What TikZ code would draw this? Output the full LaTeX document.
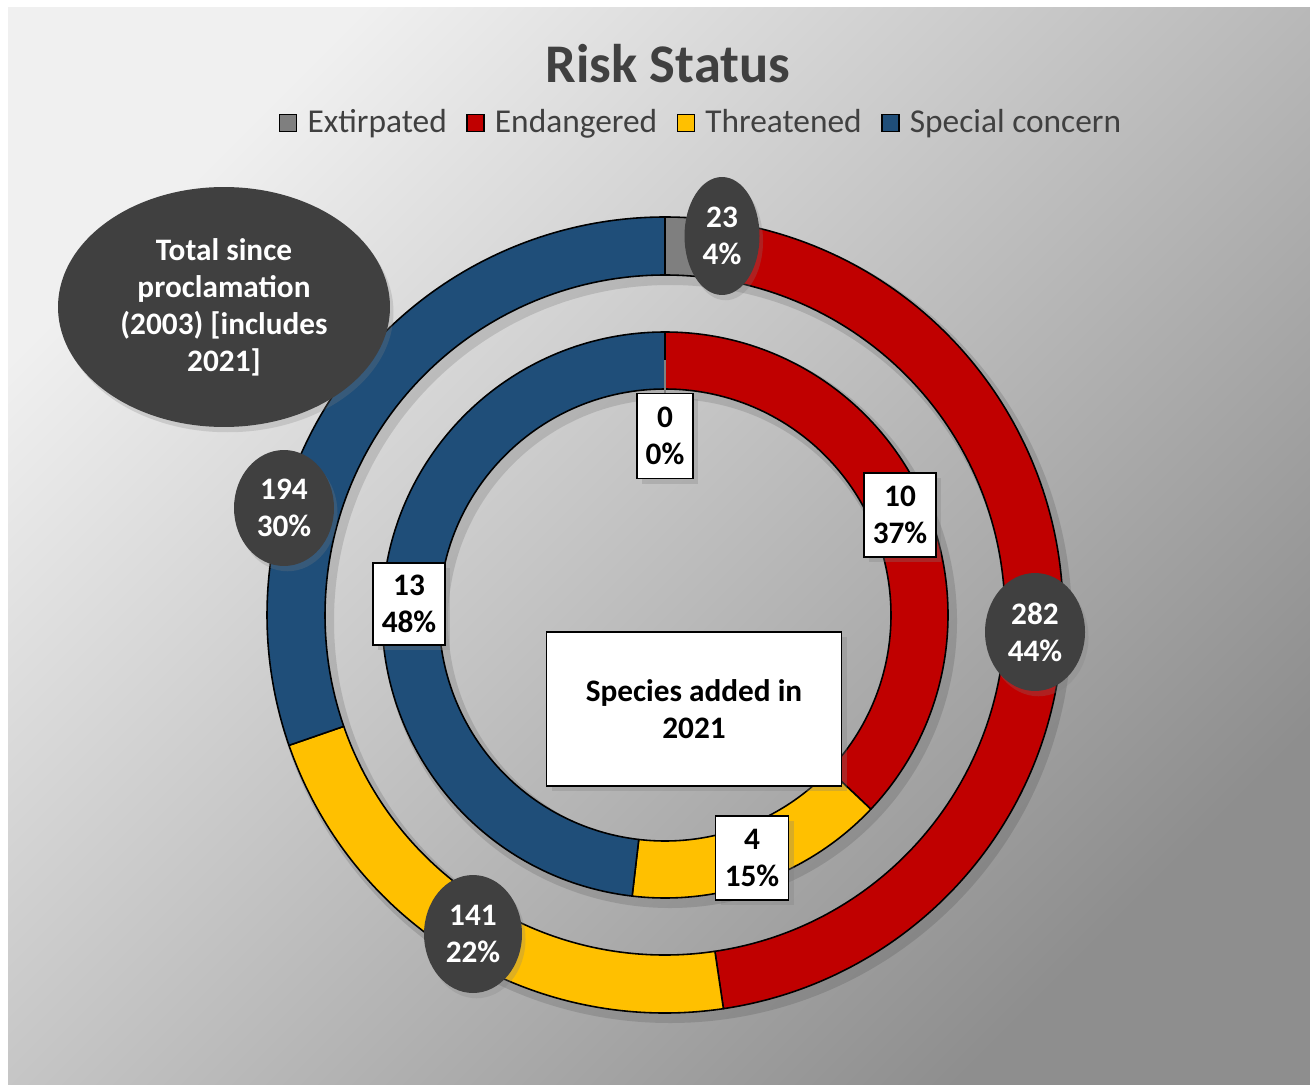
\documentclass[tikz,border=0pt]{standalone}
\usepackage{fontspec}
\setmainfont{Carlito}
\usetikzlibrary{positioning, shapes.geometric, shadows}
\definecolor{extgray}{HTML}{7F7F7F}
\definecolor{endred}{HTML}{C00000}
\definecolor{thryellow}{HTML}{FFC000}
\definecolor{spcblue}{HTML}{1F4E79}
\definecolor{bubblegray}{HTML}{404040}
\definecolor{titlegray}{HTML}{404040}
\definecolor{bglight}{HTML}{F0F0F0}
\definecolor{bgmid}{HTML}{C6C6C6}
\definecolor{bgdark}{HTML}{8E8E8E}

\begin{document}
\begin{tikzpicture}[x=0.02cm, y=0.02cm]

	\tikzstyle{bubble} = [ellipse, fill=bubblegray, text=white, font=\fontsize{17.8}{21}\selectfont\bfseries, align=center, inner sep=0pt, drop shadow={shadow xshift=2pt, shadow yshift=-3pt, opacity=0.25}]
	\tikzstyle{valbox} = [rectangle, draw=black, line width=1pt, fill=white, font=\fontsize{17.8}{21}\selectfont\bfseries, align=center, inner sep=0pt, drop shadow={shadow xshift=3pt, shadow yshift=-3pt, opacity=0.3}]
	\tikzstyle{segment} = [draw=black, line width=0.9pt, line join=round]
	\tikzstyle{legsq} = [rectangle, draw=black, line width=0.8pt, minimum size=0.34cm, inner sep=0pt]
	\tikzstyle{legtext} = [text=titlegray, font=\fontsize{19}{21}\selectfont, inner sep=0pt, text height=14pt, text depth=3pt]

	% background
	\fill[white] (0,0) rectangle (1310,-1084);
	\shade[top color=bglight, middle color=bgmid, bottom color=bgdark, shading angle=45] (8,-8) rectangle (1310,-1084);

	% title and legend
	\node[text=titlegray, font=\fontsize{31}{36}\selectfont\bfseries] (title) at (668,-64) {Risk Status};
	\node[legsq, fill=extgray] (sqExt) at (288,-123) {};
	\node[legtext, right=0.2cm of sqExt] (txtExt) {Extirpated};
	\node[legsq, fill=endred, right=0.38cm of txtExt] (sqEnd) {};
	\node[legtext, right=0.2cm of sqEnd] (txtEnd) {Endangered};
	\node[legsq, fill=thryellow, right=0.38cm of txtEnd] (sqThr) {};
	\node[legtext, right=0.2cm of sqThr] (txtThr) {Threatened};
	\node[legsq, fill=spcblue, right=0.38cm of txtThr] (sqSpc) {};
	\node[legtext, right=0.2cm of sqSpc] (txtSpc) {Special concern};

	% rings
	\begin{scope}[shift={(665,-615)}]
		\fill[black, opacity=0.12, even odd rule] (5,-6) circle[radius=402] (5,-6) circle[radius=336];
		\fill[black, opacity=0.12, even odd rule] (5,-6) circle[radius=287] (5,-6) circle[radius=222];
		% total since 2003
		\foreach \a/\b/\c in {90/77.06/extgray, 77.06/-81.56/endred, -81.56/-160.88/thryellow, -160.88/-270/spcblue}
			\draw[segment, fill=\c] (\a:398) arc[start angle=\a, end angle=\b, radius=398] -- (\b:340) arc[start angle=\b, end angle=\a, radius=340] -- cycle;
		% added in 2021
		\foreach \a/\b/\c in {90/-43.33/endred, -43.33/-96.67/thryellow, -96.67/-270/spcblue}
			\draw[segment, fill=\c] (\a:283) arc[start angle=\a, end angle=\b, radius=283] -- (\b:226) arc[start angle=\b, end angle=\a, radius=226] -- cycle;
		\coordinate (extTick) at (0,255);
	\end{scope}

	% labels
	\node[valbox, minimum width=1.12cm, minimum height=1.7cm] (extA) at (665,-436) {0\\0\%};
	\draw[gray, line width=1pt] (extA.north) -- (extTick);
	\node[valbox, minimum width=1.44cm, minimum height=1.68cm] (endA) at (900,-515) {10\\37\%};
	\node[valbox, minimum width=1.44cm, minimum height=1.64cm] (spcA) at (409,-604) {13\\48\%};
	\node[valbox, minimum width=1.46cm, minimum height=1.68cm] (thrA) at (752,-858) {4\\15\%};
	\node[valbox, minimum width=5.9cm, minimum height=3.08cm] (addedN) at (694,-709) {Species added in\\2021};

	\node[bubble, minimum width=1.5cm, minimum height=2.36cm] (extN) at (722,-236) {23\\4\%};
	\node[bubble, minimum width=2cm, minimum height=2.36cm] (endN) at (1035,-632) {282\\44\%};
	\node[bubble, minimum width=1.96cm, minimum height=2.36cm] (thrN) at (473,-934) {141\\22\%};
	\node[bubble, minimum width=2cm, minimum height=2.32cm] (spcN) at (284,-508) {194\\30\%};
	\node[bubble, minimum width=6.64cm, minimum height=4.8cm] (totalN) at (224,-307) {Total since\\proclamation\\(2003) [includes\\2021]};
\end{tikzpicture}
\end{document}
